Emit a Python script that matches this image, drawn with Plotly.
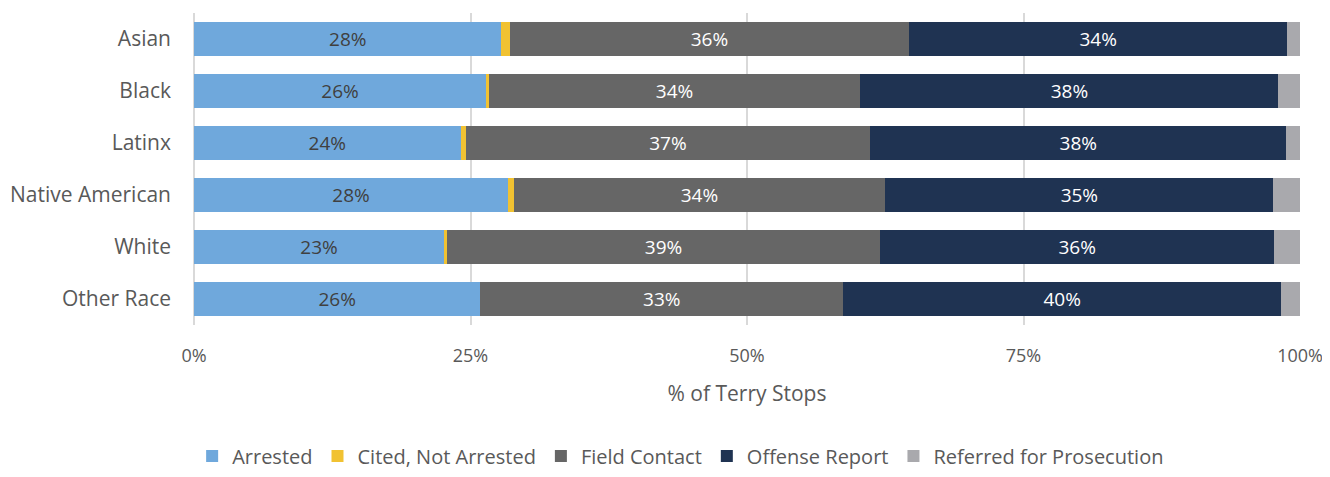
import plotly.graph_objects as go

categories = ["Asian", "Black", "Latinx", "Native American", "White", "Other Race"]
arrested = [27.8, 26.4, 24.1, 28.4, 22.6, 25.9]
cited = [0.75, 0.25, 0.45, 0.5, 0.25, 0.0]
field_contact = [36.1, 33.6, 36.6, 33.6, 39.2, 32.8]
offense_report = [34.2, 37.8, 37.6, 35.1, 35.6, 39.6]
referred = [1.15, 1.95, 1.25, 2.4, 2.35, 1.7]

series = [
    ("Arrested", arrested, "#6fa8dc", True, "#404040"),
    ("Cited, Not Arrested", cited, "#f1c232", False, None),
    ("Field Contact", field_contact, "#666666", True, "white"),
    ("Offense Report", offense_report, "#1f3352", True, "white"),
    ("Referred for Prosecution", referred, "#a9a9ad", False, None),
]

fig = go.Figure()
for name, vals, color, show_text, tcolor in series:
    kw = {}
    if show_text:
        kw = dict(
            text=[f"{round(v):d}%" for v in vals],
            textposition="inside",
            insidetextanchor="middle",
            textfont=dict(color=tcolor, size=19, family="Open Sans"),
            constraintext="none",
        )
    fig.add_trace(go.Bar(
        name=name, y=categories, x=vals, orientation="h",
        marker=dict(color=color, line=dict(width=0)),
        hoverinfo="x+name", **kw,
    ))

fig.update_layout(
    barmode="stack",
    bargap=0.35,
    width=1314, height=461,
    margin=dict(l=186, r=22, t=5, b=144, autoexpand=False),
    plot_bgcolor="white", paper_bgcolor="white",
    font=dict(family="Open Sans", color="#595959", size=18),
    legend=dict(
        orientation="h", x=0.44, xanchor="center", y=-0.42, yanchor="middle",
        font=dict(size=20, color="#595959"), itemwidth=30, traceorder="normal",
    ),
    xaxis=dict(
        range=[0, 100], tickvals=[0, 25, 50, 75, 100],
        ticktext=["0%", "25%", "50%", "75%", "100%"],
        showgrid=True, gridcolor="#d9d9d9", gridwidth=2,
        zeroline=True, zerolinecolor="#d9d9d9", zerolinewidth=2,
        ticks="", ticklabelstandoff=18, automargin=False, ticklabeloverflow="allow",
        title=dict(text="% of Terry Stops", font=dict(size=21, color="#595959"), standoff=20),
        tickfont=dict(size=18, color="#595959"),
    ),
    yaxis=dict(
        categoryorder="array", categoryarray=categories, autorange="reversed",
        ticks="", ticklabelstandoff=22, automargin=False,
        tickfont=dict(size=21, color="#595959"), showgrid=False,
    ),
)

fig.write_html("out.html")
